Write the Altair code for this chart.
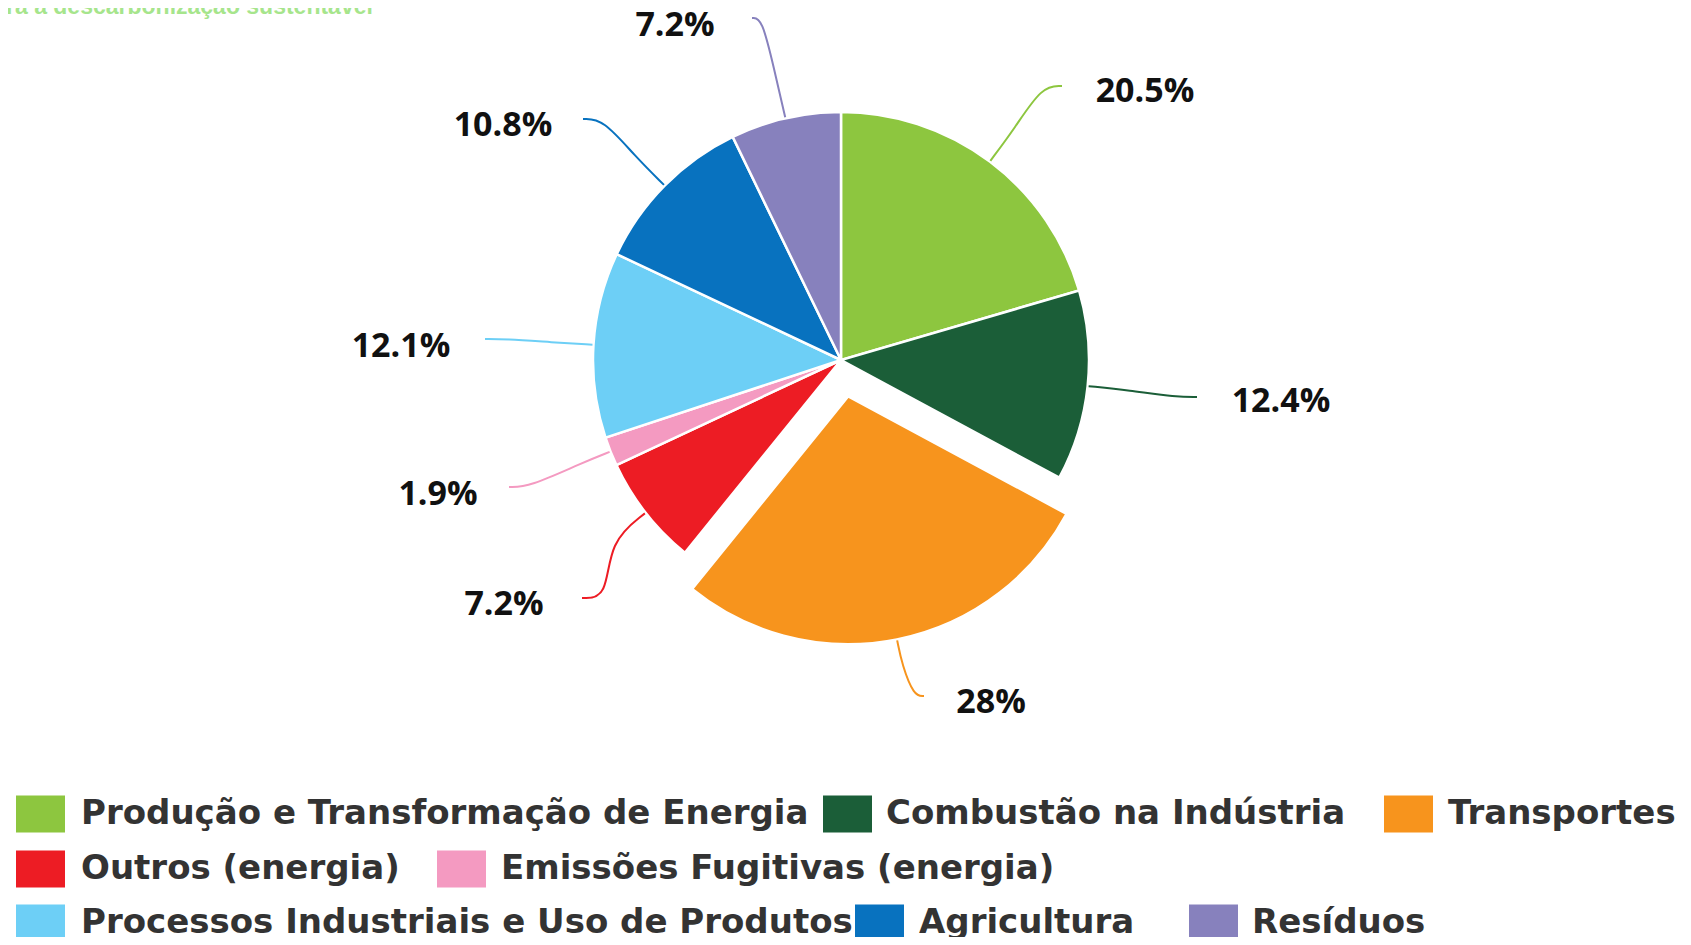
import math
import altair as alt
import pandas as pd

# ---------------- data ----------------
categories = [
    "Produção e Transformação de Energia",
    "Combustão na Indústria",
    "Transportes",
    "Outros (energia)",
    "Emissões Fugitivas (energia)",
    "Processos Industriais e Uso de Produtos",
    "Agricultura",
    "Resíduos",
]
values = [20.5, 12.4, 28.0, 7.2, 1.9, 12.1, 10.8, 7.2]
value_labels = ["20.5%", "12.4%", "28%", "7.2%", "1.9%", "12.1%", "10.8%", "7.2%"]
colors = ["#8dc63f", "#1b5e38", "#f7941d", "#ed1c24", "#f49ac1", "#6dcff6", "#0872bf", "#8781bd"]
title_text = "ra a descarbonização sustentável"

# ---------------- layout ----------------
W, H = 1675, 929
CX, CY = 833, 352
R = 248
explode = [0, 0, 37, 0, 0, 0, 0, 0]
line_end = [(221, -274), (356, 37), (83, 336), (-259, 238), (-332, 127), (-356, -21), (-258, -241), (-89, -342)]
label_pos = [(304, -268), (440, 42), (150, 343), (-337, 245), (-403, 135), (-440, -13), (-338, -234), (-166, -334)]
line_reach = [40, 40, 25, 45, 30, 40, 40, 50]
line_tail = [20, 20, 10, 25, 20, 20, 20, 10]
legend_row = [0, 0, 0, 1, 1, 2, 2, 2]
legend_box_x = [8, 815, 1376, 8, 429, 8, 847, 1181]
legend_text_x = [73, 878, 1440, 73, 493, 73, 911, 1244]
row_y = [806, 861, 915]
box_w, box_h = 49, 37

total = sum(values)
rows, line_rows, leg_rows = [], [], []
acc = 0.0
for i, (c, v) in enumerate(zip(categories, values)):
    start, end = acc, acc + v
    acc = end
    mid = (start + end) / 2 / total * 2 * math.pi
    sx, sy = math.sin(mid), -math.cos(mid)
    cx = CX + explode[i] * sx
    cy = CY + explode[i] * sy
    rows.append(dict(cat=c, start=start, end=end, cx=cx, cy=cy,
                     label=value_labels[i],
                     lx=CX + label_pos[i][0], ly=CY + label_pos[i][1]))
    S = (cx + (R + 1) * sx, cy + (R + 1) * sy)
    P1 = (S[0] + line_reach[i] * sx, S[1] + line_reach[i] * sy)
    E = (CX + line_end[i][0], CY + line_end[i][1])
    hdir = 1 if label_pos[i][0] > line_end[i][0] else -1
    P2 = (E[0] - line_tail[i] * hdir, E[1])
    for k, p in enumerate([S, P1, P2, E]):
        line_rows.append(dict(cat=c, i=k, px=p[0], py=p[1]))
    ry = row_y[legend_row[i]]
    leg_rows.append(dict(cat=c, bx=legend_box_x[i], bx2=legend_box_x[i] + box_w,
                         by=ry - box_h / 2, by2=ry + box_h / 2,
                         tx=legend_text_x[i], ty=ry))

df = pd.DataFrame(rows)
lines_df = pd.DataFrame(line_rows)
leg_df = pd.DataFrame(leg_rows)
title_df = pd.DataFrame([dict(t=title_text, x=-2, y=6)])

color_scale = alt.Scale(domain=categories, range=colors)
col = alt.Color("cat:N", scale=color_scale, legend=None)

arcs = alt.Chart(df).mark_arc(outerRadius=R, stroke="white", strokeWidth=2.5).encode(
    theta=alt.Theta("start:Q", stack=None, scale=alt.Scale(domain=[0, total], range=[0, 2 * math.pi])),
    theta2="end:Q",
    x=alt.X("cx:Q", scale=None, axis=None),
    y=alt.Y("cy:Q", scale=None, axis=None),
    color=col,
)

leaders = alt.Chart(lines_df).mark_line(interpolate="basis", strokeWidth=2).encode(
    x=alt.X("px:Q", scale=None, axis=None),
    y=alt.Y("py:Q", scale=None, axis=None),
    color=col,
    order="i:O",
)

labels = alt.Chart(df).mark_text(
    font="Open Sans", fontWeight="bold", fontSize=34, color="#111111",
    align="center", baseline="middle",
).encode(
    x=alt.X("lx:Q", scale=None, axis=None),
    y=alt.Y("ly:Q", scale=None, axis=None),
    text="label:N",
)

leg_boxes = alt.Chart(leg_df).mark_rect().encode(
    x=alt.X("bx:Q", scale=None, axis=None), x2="bx2:Q",
    y=alt.Y("by:Q", scale=None, axis=None), y2="by2:Q",
    color=col,
)

leg_text = alt.Chart(leg_df).mark_text(
    font="DejaVu Sans", fontWeight="bold", fontSize=34, color="#333333",
    align="left", baseline="middle",
).encode(
    x=alt.X("tx:Q", scale=None, axis=None),
    y=alt.Y("ty:Q", scale=None, axis=None),
    text="cat:N",
)

title = alt.Chart(title_df).mark_text(
    font="Liberation Sans", fontWeight="bold", fontSize=23, color="#a6e58c",
    align="left", baseline="alphabetic",
).encode(
    x=alt.X("x:Q", scale=None, axis=None),
    y=alt.Y("y:Q", scale=None, axis=None),
    text="t:N",
)

chart = alt.layer(arcs, leaders, labels, leg_boxes, leg_text, title).properties(
    width=W, height=H, padding=0,
    autosize=alt.AutoSizeParams(type="none"),
).configure_view(stroke=None)

chart.save("out.html", embed_options={"renderer": "svg", "actions": False})
